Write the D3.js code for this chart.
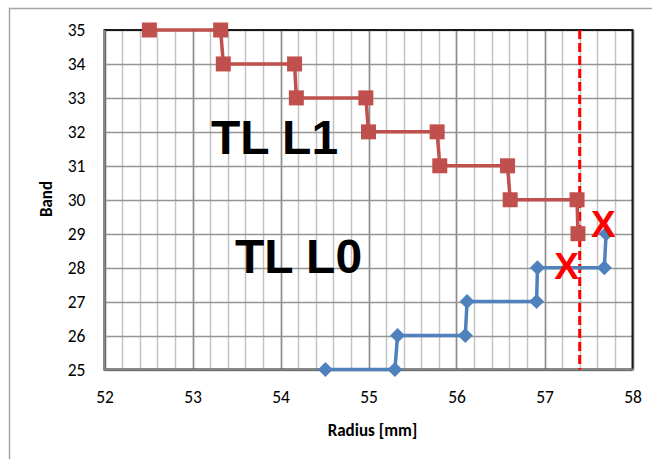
<!DOCTYPE html>
<html><head><meta charset="utf-8">
<script src="https://cdn.jsdelivr.net/npm/d3@7"></script>
<style>
body{margin:0;background:#fff;}
svg{display:block;}
</style></head>
<body><svg id="c" width="652" height="459"></svg>
<script>
// Data
const l1Radius = [52.51, 53.32, 53.35, 54.16, 54.18, 54.97, 55.00, 55.78, 55.81, 56.58, 56.61, 57.37, 57.38];
const l1Band   = [35, 35, 34, 34, 33, 33, 32, 32, 31, 31, 30, 30, 29];
const l0Radius = [54.51, 55.30, 55.33, 56.10, 56.12, 56.91, 56.92, 57.68, 57.70];
const l0Band   = [25, 25, 26, 26, 27, 27, 28, 28, 29];
const limitRadius = [57.40];
const crossRadius = [57.25, 57.67];
const crossBand   = [28.05, 29.3];
const xTicks = [52, 53, 54, 55, 56, 57, 58];
const yTicks = [25, 26, 27, 28, 29, 30, 31, 32, 33, 34, 35];
const seriesLabels = ["TL L1", "TL L0"];

const svg = d3.select("#c");
const L = 104.5, R = 632.5, T = 30, B = 369.5;
const x = d3.scaleLinear().domain([52, 58]).range([L, R]);
const y = d3.scaleLinear().domain([25, 35]).range([B, T]);
const font = "Carlito, Lato, 'Open Sans', sans-serif";

// outer frame
svg.append("rect").attr("x", 9.5).attr("y", 8.5).attr("width", 720).attr("height", 520)
  .attr("fill", "none").attr("stroke", "#a6a6a6").attr("stroke-width", 1.5);

// minor vertical grid every 0.2
const minor = d3.range(52, 58.001, 0.2).map(v => +v.toFixed(1));
svg.append("g").selectAll("line").data(minor).join("line")
  .attr("x1", d => Math.round(x(d)) + 0.5).attr("x2", d => Math.round(x(d)) + 0.5)
  .attr("y1", T).attr("y2", B)
  .attr("stroke", "#c4c4c4").attr("stroke-width", 1.5);
// major vertical grid
svg.append("g").selectAll("line").data(xTicks).join("line")
  .attr("x1", d => Math.round(x(d)) + 0.5).attr("x2", d => Math.round(x(d)) + 0.5)
  .attr("y1", T).attr("y2", B)
  .attr("stroke", "#8c8c8c").attr("stroke-width", 1.5);
// horizontal grid
svg.append("g").selectAll("line").data(yTicks).join("line")
  .attr("x1", L).attr("x2", R)
  .attr("y1", d => Math.round(y(d)) + 0.5).attr("y2", d => Math.round(y(d)) + 0.5)
  .attr("stroke", "#959595").attr("stroke-width", 1.5);

// plot border
svg.append("rect").attr("x", L).attr("y", T).attr("width", R - L).attr("height", B - T)
  .attr("fill", "none").attr("stroke", "#1a1a1a").attr("stroke-width", 2);
// axis lines (grey) left & bottom
svg.append("line").attr("x1", L).attr("x2", L).attr("y1", T).attr("y2", B + 1)
  .attr("stroke", "#868686").attr("stroke-width", 2);
svg.append("line").attr("x1", L).attr("x2", R + 1).attr("y1", B).attr("y2", B)
  .attr("stroke", "#868686").attr("stroke-width", 2);

// axes tick labels
const ax = svg.append("g").attr("transform", `translate(0,${B})`)
  .call(d3.axisBottom(x).tickValues(xTicks).tickSize(0).tickPadding(21).tickFormat(d3.format("d")));
const ay = svg.append("g").attr("transform", `translate(${L},0)`)
  .call(d3.axisLeft(y).tickValues(yTicks).tickSize(0).tickPadding(19).tickFormat(d3.format("d")));
[ax, ay].forEach(g => {
  g.select(".domain").remove();
  g.selectAll("text").attr("font-family", font).attr("font-size", 17.5).attr("fill", "#000");
});

// axis titles
svg.append("text").attr("x", (L + R) / 2 + 4).attr("y", 436).attr("text-anchor", "middle")
  .attr("font-family", font).attr("font-weight", "bold").attr("font-size", 17).text("Radius [mm]");
svg.append("text").attr("transform", "translate(52,199) rotate(-90)").attr("text-anchor", "middle")
  .attr("font-family", font).attr("font-weight", "bold").attr("font-size", 17).text("Band");

// limit line
svg.append("g").selectAll("line").data(limitRadius).join("line")
  .attr("x1", d => x(d)).attr("x2", d => x(d)).attr("y1", T).attr("y2", B)
  .attr("stroke", "#ff0000").attr("stroke-width", 3).attr("stroke-dasharray", "9,4");

const line = d3.line().x(d => x(d[0])).y(d => y(d[1]));
const l1 = l1Radius.map((r, i) => [r, l1Band[i]]);
const l0 = l0Radius.map((r, i) => [r, l0Band[i]]);

// L1 series (red squares)
svg.append("path").datum(l1).attr("d", line).attr("fill", "none")
  .attr("stroke", "#c0504d").attr("stroke-width", 3.5);
svg.append("g").selectAll("rect").data(l1).join("rect")
  .attr("x", d => x(d[0]) - 7.5).attr("y", d => y(d[1]) - 7.5).attr("width", 15).attr("height", 15)
  .attr("fill", "#c0504d");

// L0 series (blue diamonds)
svg.append("path").datum(l0).attr("d", line).attr("fill", "none")
  .attr("stroke", "#4f81bd").attr("stroke-width", 3.5);
svg.append("g").selectAll("path").data(l0).join("path")
  .attr("d", d => { const cx = x(d[0]), cy = y(d[1]), s = 7.5; return `M${cx},${cy - s}L${cx + s},${cy}L${cx},${cy + s}L${cx - s},${cy}Z`; })
  .attr("fill", "#4f81bd");

// annotations
svg.append("text").attr("x", 211).attr("y", 154).attr("font-family", "'Liberation Sans', Arial, sans-serif")
  .attr("font-weight", "bold").attr("font-size", 48).attr("fill", "#000").text(seriesLabels[0]);
svg.append("text").attr("x", 235).attr("y", 272.5).attr("font-family", "'Liberation Sans', Arial, sans-serif")
  .attr("font-weight", "bold").attr("font-size", 48).attr("fill", "#000").text(seriesLabels[1]);

// red crosses
svg.append("g").selectAll("text").data(crossRadius).join("text")
  .attr("x", d => x(d)).attr("y", (d, i) => y(crossBand[i]) + 13)
  .attr("text-anchor", "middle")
  .attr("font-family", "'Liberation Sans', Arial, sans-serif").attr("font-weight", "bold")
  .attr("font-size", 37).attr("fill", "#ff0000").text("X");
</script></body></html>
